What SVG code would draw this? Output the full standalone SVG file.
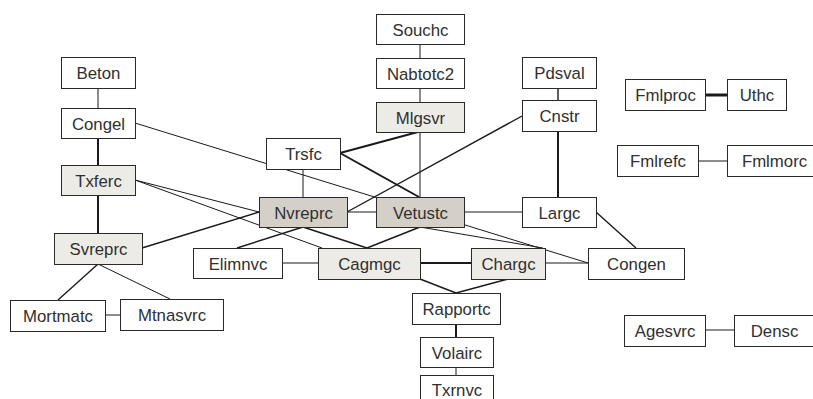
<svg xmlns="http://www.w3.org/2000/svg" width="813" height="399" viewBox="0 0 813 399">
<style>
.n rect{stroke:#2a2a2a;stroke-width:1;fill:#fff}
.n.l rect{fill:#ecebe6}
.n.d rect{fill:#d4d0c8}
.n text{font-family:"Liberation Sans",Arial,sans-serif;font-size:16.8px;fill:#303030;text-anchor:middle}
#edges line{stroke:#1a1a1a;stroke-width:1;fill:none}
#edges line.t{stroke-width:2}
#edges line.m{stroke-width:1.4}
#edges line.h{stroke-width:3}
</style>
<rect width="813" height="399" fill="#fff"/>
<g id="edges">
<line x1="98" y1="88" x2="98" y2="108"/>
<line class="t" x1="98" y1="138" x2="98" y2="165"/>
<line class="t" x1="98" y1="195" x2="98" y2="233"/>
<line class="m" x1="98" y1="264" x2="58" y2="300"/>
<line x1="98" y1="264" x2="170" y2="299"/>
<line x1="105" y1="315" x2="120" y2="315"/>
<line class="m" x1="142" y1="248" x2="259" y2="212"/>
<line x1="135" y1="180" x2="259" y2="212"/>
<line x1="135" y1="180" x2="322" y2="248"/>
<line x1="135" y1="123" x2="588" y2="263"/>
<line x1="420" y1="44" x2="420" y2="58"/>
<line x1="420" y1="88" x2="420" y2="102"/>
<line x1="420" y1="132" x2="420" y2="197"/>
<line class="t" x1="418" y1="132" x2="340" y2="153"/>
<line class="t" x1="340" y1="153" x2="419" y2="197"/>
<line x1="303" y1="169" x2="303" y2="197"/>
<line x1="347" y1="212" x2="376" y2="212"/>
<line class="m" x1="347" y1="212" x2="522" y2="116"/>
<line x1="464" y1="212" x2="522" y2="212"/>
<line class="m" x1="558" y1="88" x2="558" y2="100"/>
<line class="t" x1="558" y1="131" x2="558" y2="197"/>
<line class="m" x1="596" y1="212" x2="636" y2="248"/>
<line class="m" x1="303" y1="227" x2="237" y2="248"/>
<line class="m" x1="303" y1="227" x2="367" y2="248"/>
<line class="m" x1="420" y1="227" x2="367" y2="248"/>
<line x1="420" y1="227" x2="543" y2="248"/>
<line x1="282" y1="263" x2="318" y2="263"/>
<line class="t" x1="420" y1="263" x2="471" y2="263"/>
<line x1="545" y1="263" x2="588" y2="263"/>
<line class="m" x1="420" y1="279" x2="456" y2="293"/>
<line class="m" x1="508" y1="279" x2="456" y2="293"/>
<line class="t" x1="456" y1="324" x2="456" y2="337"/>
<line x1="456" y1="367" x2="456" y2="375"/>
<line class="h" x1="705" y1="95" x2="727" y2="95"/>
<line x1="698" y1="161" x2="727" y2="161"/>
<line x1="705" y1="330" x2="734" y2="330"/>
</g>
<g id="Beton" class="n"><rect x="61.5" y="57.5" width="74" height="31"/><text x="98.5" y="79">Beton</text></g>
<g id="Congel" class="n"><rect x="61.5" y="108.5" width="74" height="30"/><text x="98.5" y="129.5">Congel</text></g>
<g id="Txferc" class="n l"><rect x="61.5" y="165.5" width="74" height="30"/><text x="98.5" y="186.5">Txferc</text></g>
<g id="Svreprc" class="n l"><rect x="54.5" y="233.5" width="88" height="31"/><text x="98.5" y="255">Svreprc</text></g>
<g id="Mortmatc" class="n"><rect x="10.5" y="300.5" width="95" height="31"/><text x="58" y="322">Mortmatc</text></g>
<g id="Mtnasvrc" class="n"><rect x="120.5" y="299.5" width="103" height="31"/><text x="172" y="321">Mtnasvrc</text></g>
<g id="Elimnvc" class="n"><rect x="193.5" y="248.5" width="89" height="30"/><text x="238" y="269.5">Elimnvc</text></g>
<g id="Souchc" class="n"><rect x="376.5" y="14.5" width="88" height="30"/><text x="420.5" y="35.5">Souchc</text></g>
<g id="Nabtotc2" class="n"><rect x="376.5" y="58.5" width="88" height="30"/><text x="420.5" y="79.5">Nabtotc2</text></g>
<g id="Mlgsvr" class="n l"><rect x="376.5" y="102.5" width="88" height="30"/><text x="420.5" y="123.5">Mlgsvr</text></g>
<g id="Trsfc" class="n"><rect x="266.5" y="138.5" width="74" height="31"/><text x="303.5" y="160">Trsfc</text></g>
<g id="Nvreprc" class="n d"><rect x="259.5" y="197.5" width="88" height="30"/><text x="303.5" y="218.5">Nvreprc</text></g>
<g id="Vetustc" class="n d"><rect x="376.5" y="197.5" width="88" height="30"/><text x="420.5" y="218.5">Vetustc</text></g>
<g id="Cagmgc" class="n l"><rect x="318.5" y="248.5" width="102" height="31"/><text x="369.5" y="270">Cagmgc</text></g>
<g id="Chargc" class="n l"><rect x="471.5" y="248.5" width="74" height="31"/><text x="508.5" y="270">Chargc</text></g>
<g id="Rapportc" class="n"><rect x="412.5" y="293.5" width="88" height="31"/><text x="456.5" y="315">Rapportc</text></g>
<g id="Volairc" class="n"><rect x="420.5" y="337.5" width="73" height="30"/><text x="457" y="358.5">Volairc</text></g>
<g id="Txrnvc" class="n"><rect x="420.5" y="375.5" width="73" height="31"/><text x="457" y="395.5">Txrnvc</text></g>
<g id="Pdsval" class="n"><rect x="522.5" y="57.5" width="74" height="31"/><text x="559.5" y="79">Pdsval</text></g>
<g id="Cnstr" class="n"><rect x="522.5" y="100.5" width="74" height="31"/><text x="559.5" y="122">Cnstr</text></g>
<g id="Largc" class="n"><rect x="522.5" y="197.5" width="74" height="30"/><text x="559.5" y="218.5">Largc</text></g>
<g id="Congen" class="n"><rect x="588.5" y="248.5" width="96" height="31"/><text x="636.5" y="270">Congen</text></g>
<g id="Fmlproc" class="n"><rect x="625.5" y="79.5" width="80" height="31"/><text x="665.5" y="101">Fmlproc</text></g>
<g id="Uthc" class="n"><rect x="727.5" y="79.5" width="59" height="31"/><text x="757" y="101">Uthc</text></g>
<g id="Fmlrefc" class="n"><rect x="617.5" y="145.5" width="81" height="31"/><text x="658" y="167">Fmlrefc</text></g>
<g id="Fmlmorc" class="n"><rect x="727.5" y="145.5" width="94" height="31"/><text x="774.5" y="167">Fmlmorc</text></g>
<g id="Agesvrc" class="n"><rect x="624.5" y="315.5" width="81" height="31"/><text x="665" y="337">Agesvrc</text></g>
<g id="Densc" class="n"><rect x="734.5" y="315.5" width="81" height="31"/><text x="774.5" y="337">Densc</text></g>
</svg>
